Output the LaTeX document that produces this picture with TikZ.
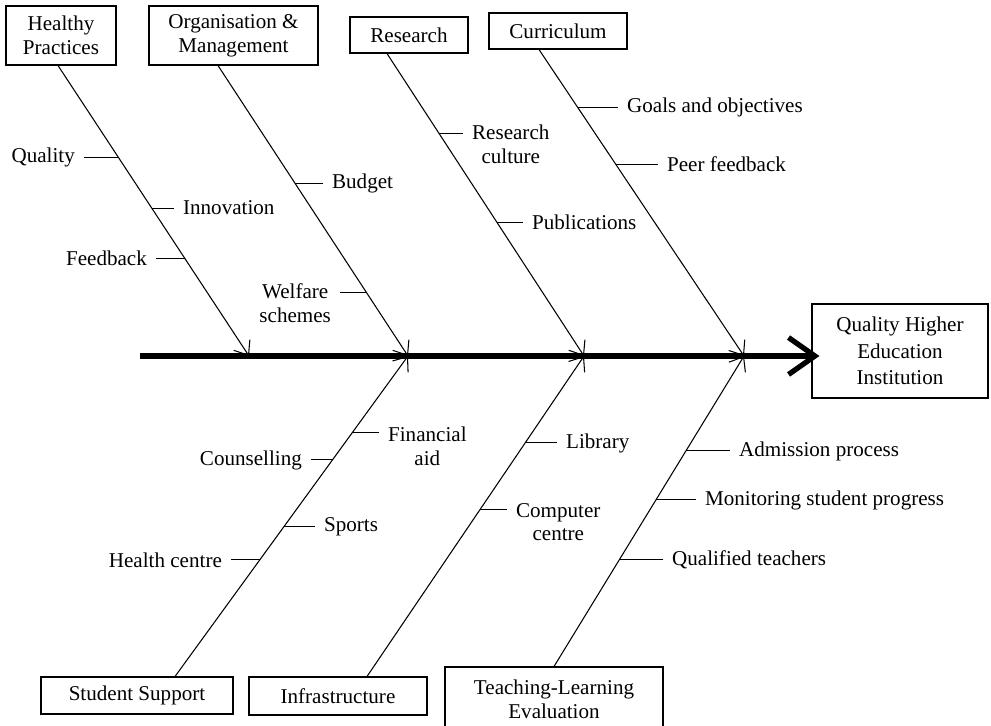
\documentclass[tikz,border=0pt]{standalone}
\usepackage{fontspec}
\setmainfont{Liberation Serif}
\usetikzlibrary{arrows.meta,calc}

\begin{document}
\begin{tikzpicture}[x=0.02cm, y=-0.02cm]
    \tikzstyle{every node}=[font=\fontsize{12}{13.5}\selectfont]
    \tikzstyle{box_style}=[rectangle, draw, line width=0.6pt, align=center, inner sep=2pt]
    \tikzstyle{label_style}=[inner sep=5pt, align=center]
    \tikzstyle{branch_style}=[line width=0.6pt, -{Straight Barb[length=7pt,width=11pt]}]
    \tikzstyle{tick_style}=[line width=0.6pt]
    \tikzstyle{spine_style}=[line width=3pt, -{Straight Barb[length=15pt,width=21pt]}]

    \useasboundingbox (0,0) rectangle (991,725);

    % causes, top row
    \draw node at (61,35.5) [box_style, minimum width=2.2cm, minimum height=1.18cm] (healthy) {Healthy\\Practices};
    \draw node at (233.5,35.5) [box_style, minimum width=3.38cm, minimum height=1.18cm] (organisation) {Organisation \&\\Management};
    \draw node at (409,35) [box_style, minimum width=2.36cm, minimum height=0.72cm] (research) {Research};
    \draw node at (558,31) [box_style, minimum width=2.76cm, minimum height=0.72cm] (curriculum) {Curriculum};

    % causes, bottom row
    \draw node at (137,695.5) [box_style, minimum width=3.84cm, minimum height=0.74cm] (student) {Student Support};
    \draw node at (338,696) [box_style, minimum width=3.56cm, minimum height=0.76cm] (infra) {Infrastructure};
    \draw node at (554,699.5) [box_style, minimum width=4.36cm, minimum height=1.3cm] (teaching) {Teaching-Learning\\Evaluation};

    % effect
    \draw node at (900,351) [box_style, minimum width=3.52cm, minimum height=1.88cm, font=\fontsize{12}{15}\selectfont] (quality_hei) {Quality Higher\\Education\\Institution};

    % spine
    \coordinate (spine_start) at (140,356);
    \foreach \n/\x in {1/249, 2/408, 3/584, 4/744}
      \coordinate (joint_\n) at (\x,356);
    \draw[spine_style] (spine_start) -- ($(spine_start -| quality_hei.west)+(8,0)$);

    % branches: top -> spine
    \draw[branch_style] ($(healthy.south)+(-3,0)$) -- coordinate[pos=0.316] (on_quality) coordinate[pos=0.491] (on_innovation) coordinate[pos=0.663] (on_feedback) (joint_1);
    \draw[branch_style] ($(organisation.south)+(-15.5,0)$) -- coordinate[pos=0.405] (on_budget) coordinate[pos=0.780] (on_welfare) (joint_2);
    \draw[branch_style] ($(research.south)+(-22,0)$) -- coordinate[pos=0.264] (on_culture) coordinate[pos=0.558] (on_publications) (joint_3);
    \draw[branch_style] ($(curriculum.south)+(-19,0)$) -- coordinate[pos=0.189] (on_goals) coordinate[pos=0.375] (on_peer) (joint_4);

    % branches: bottom -> spine
    \draw[branch_style] ($(student.north)+(38,0)$) -- coordinate[pos=0.760] (on_financial) coordinate[pos=0.676] (on_counselling) coordinate[pos=0.467] (on_sports) coordinate[pos=0.364] (on_health) (joint_2);
    \draw[branch_style] ($(infra.north)+(29,0)$) -- coordinate[pos=0.729] (on_library) coordinate[pos=0.520] (on_computer) (joint_3);
    \draw[branch_style] (teaching.north) -- coordinate[pos=0.695] (on_admission) coordinate[pos=0.537] (on_monitoring) coordinate[pos=0.344] (on_qualified) (joint_4);

    % sub-causes
    \draw node at (84,157) [label_style, anchor=east] (quality) {Quality};
    \draw node at (174,208) [label_style, anchor=west] (innovation) {Innovation};
    \draw node at (156,258) [label_style, anchor=east] (feedback) {Feedback};
    \draw node at (323,183) [label_style, anchor=west] (budget) {Budget};
    \draw node at (340,303) [label_style, anchor=east] (welfare) {Welfare\\schemes};
    \draw node at (463,144.5) [label_style, anchor=west] (culture) {Research\\culture};
    \draw node at (523,222) [label_style, anchor=west] (publications) {Publications};
    \draw node at (618,107) [label_style, anchor=west] (goals) {Goals and objectives};
    \draw node at (658,164) [label_style, anchor=west] (peer) {Peer feedback};
    \draw node at (379,446) [label_style, anchor=west] (financial) {Financial\\aid};
    \draw node at (311,460) [label_style, anchor=east] (counselling) {Counselling};
    \draw node at (315,527) [label_style, anchor=west] (sports) {Sports};
    \draw node at (231,560) [label_style, anchor=east] (health) {Health centre};
    \draw node at (557,443) [label_style, anchor=west] (library) {Library};
    \draw node at (507,522) [label_style, anchor=west] (computer) {Computer\\centre};
    \draw node at (730,451) [label_style, anchor=west] (admission) {Admission process};
    \draw node at (696,500) [label_style, anchor=west] (monitoring) {Monitoring student progress};
    \draw node at (663,560) [label_style, anchor=west] (qualified) {Qualified teachers};

    % connect: branch -> sub-cause
    \foreach \l/\a in {quality/east, innovation/west, feedback/east, budget/west, welfare/east, culture/west, publications/west, goals/west, peer/west, financial/west, counselling/east, sports/west, health/east, library/west, computer/west, admission/west, monitoring/west, qualified/west}
      \draw[tick_style] (on_\l) -- (\l.\a |- on_\l);

\end{tikzpicture}
\end{document}
